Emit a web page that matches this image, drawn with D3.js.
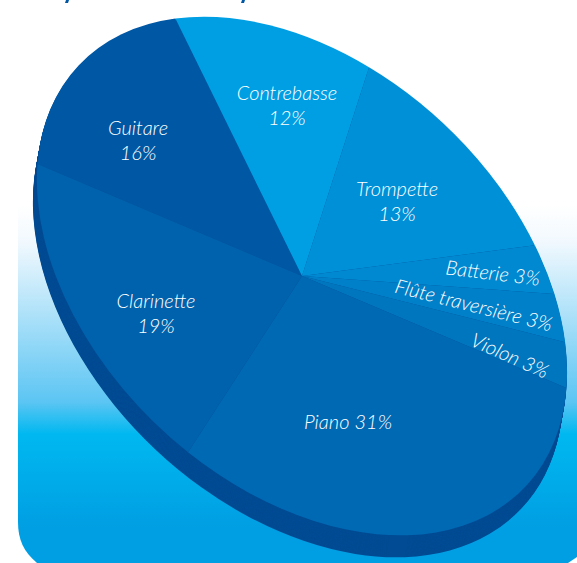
<!DOCTYPE html>
<html lang="en">
<head>
<meta charset="utf-8">
<style>
html, body { margin: 0; padding: 0; background: #fff; }
svg { display: block; }
text { font-family: Lato, sans-serif; font-style: italic; font-weight: 300; fill: #fff; }
</style>
<title>Instruments</title>
</head>
<body>
<div id="chart"></div>
<script src="https://d3js.org/d3.v7.min.js"></script>
<script>
const instruments = ["Guitare", "Contrebasse", "Trompette", "Batterie", "Flûte traversière", "Violon", "Piano", "Clarinette"];
const shares = [16, 12, 13, 3, 3, 3, 31, 19];
const sliceColors = ["#0057a4", "#009fe3", "#0090d7", "#0088d0", "#0080c9", "#0076bf", "#0069b4", "#0062ac"];

// label layout, same order as instruments
const labelLines = [["Guitare", "16%"], ["Contrebasse", "12%"], ["Trompette", "13%"], ["Batterie 3%"], ["Flûte traversière 3%"], ["Violon 3%"], ["Piano 31%"], ["Clarinette", "19%"]];
const labelSpots = [[138, 135], [287, 100], [397, 196], [492, 280], [472, 312], [507, 362], [348, 429], [156, 308]];
const labelTilt = [0, 0, 0, 7, 14, 24, 0, 0];

const w = 577;
const h = 563;

// the pie is a circle seen at an angle
const cx = 302;
const cy = 276;
const rx = 307;
const ry = 208;
const tilt = 43.3;
const startDeg = 241.3;
const depth = 22;
const depthShift = -4;

const svg = d3.select("#chart").append("svg")
    .attr("width", w)
    .attr("height", h);

const defs = svg.append("defs");
const grad = defs.append("linearGradient")
    .attr("id", "panel")
    .attr("gradientUnits", "userSpaceOnUse")
    .attr("x1", 0).attr("x2", 0).attr("y1", 205).attr("y2", 563);
[[0, "#ffffff"], [0.1, "#f2f9fe"], [0.55, "#5cc5f3"], [0.64, "#00b8f0"], [0.9, "#009fe3"], [1, "#009fe3"]].forEach(function(s) {
    grad.append("stop").attr("offset", s[0]).attr("stop-color", s[1]);
});

// panel, only the bottom corners are rounded
svg.append("path")
    .attr("d", "M18 205 H577 V557 L568 563 H37 C24 552 18 540 18 522 Z")
    .attr("fill", "url(#panel)");

// cut off title above the chart, only two descenders are left in frame
svg.append("g").selectAll("path")
    .data([65, 241])
    .enter().append("path")
    .attr("d", function(d) { return "M" + (d + 1) + " 0 H" + (d + 4) + " L" + (d + 3) + " 3 H" + d + " Z"; })
    .attr("fill", "#0057a4");

const pie = d3.pie()
    .sort(null)
    .startAngle(startDeg * Math.PI / 180)
    .endAngle((startDeg + 360) * Math.PI / 180);

const arc = d3.arc().innerRadius(0).outerRadius(100);
const slices = pie(shares);

function place(dx, dy) {
    return "translate(" + (cx + dx) + "," + (cy + dy) + ") rotate(" + tilt + ") scale(" + rx / 100 + "," + ry / 100 + ")";
}

// side wall: stacked copies of the disc going down
svg.append("g").selectAll("path")
    .data(d3.range(depth, 0, -1))
    .enter().append("path")
    .attr("d", d3.arc().innerRadius(0).outerRadius(100).startAngle(0).endAngle(2 * Math.PI)())
    .attr("transform", function(d) { return place(depthShift * d / depth, d); })
    .attr("fill", "#004b93");

svg.append("g").selectAll("path")
    .data(slices)
    .enter().append("path")
    .attr("d", arc)
    .attr("transform", place(0, 0))
    .attr("fill", function(d, i) { return sliceColors[i]; });

const labels = svg.append("g").selectAll("text")
    .data(instruments)
    .enter().append("text")
    .attr("text-anchor", "middle")
    .attr("font-size", 20)
    .attr("transform", function(d, i) {
        return "translate(" + labelSpots[i][0] + "," + labelSpots[i][1] + ") rotate(" + labelTilt[i] + ")";
    });

labels.selectAll("tspan")
    .data(function(d, i) { return labelLines[i]; })
    .enter().append("tspan")
    .attr("x", 0)
    .attr("dy", function(d, i) { return i ? 25 : 0; })
    .text(function(d) { return d; });
</script>
</body>
</html>
